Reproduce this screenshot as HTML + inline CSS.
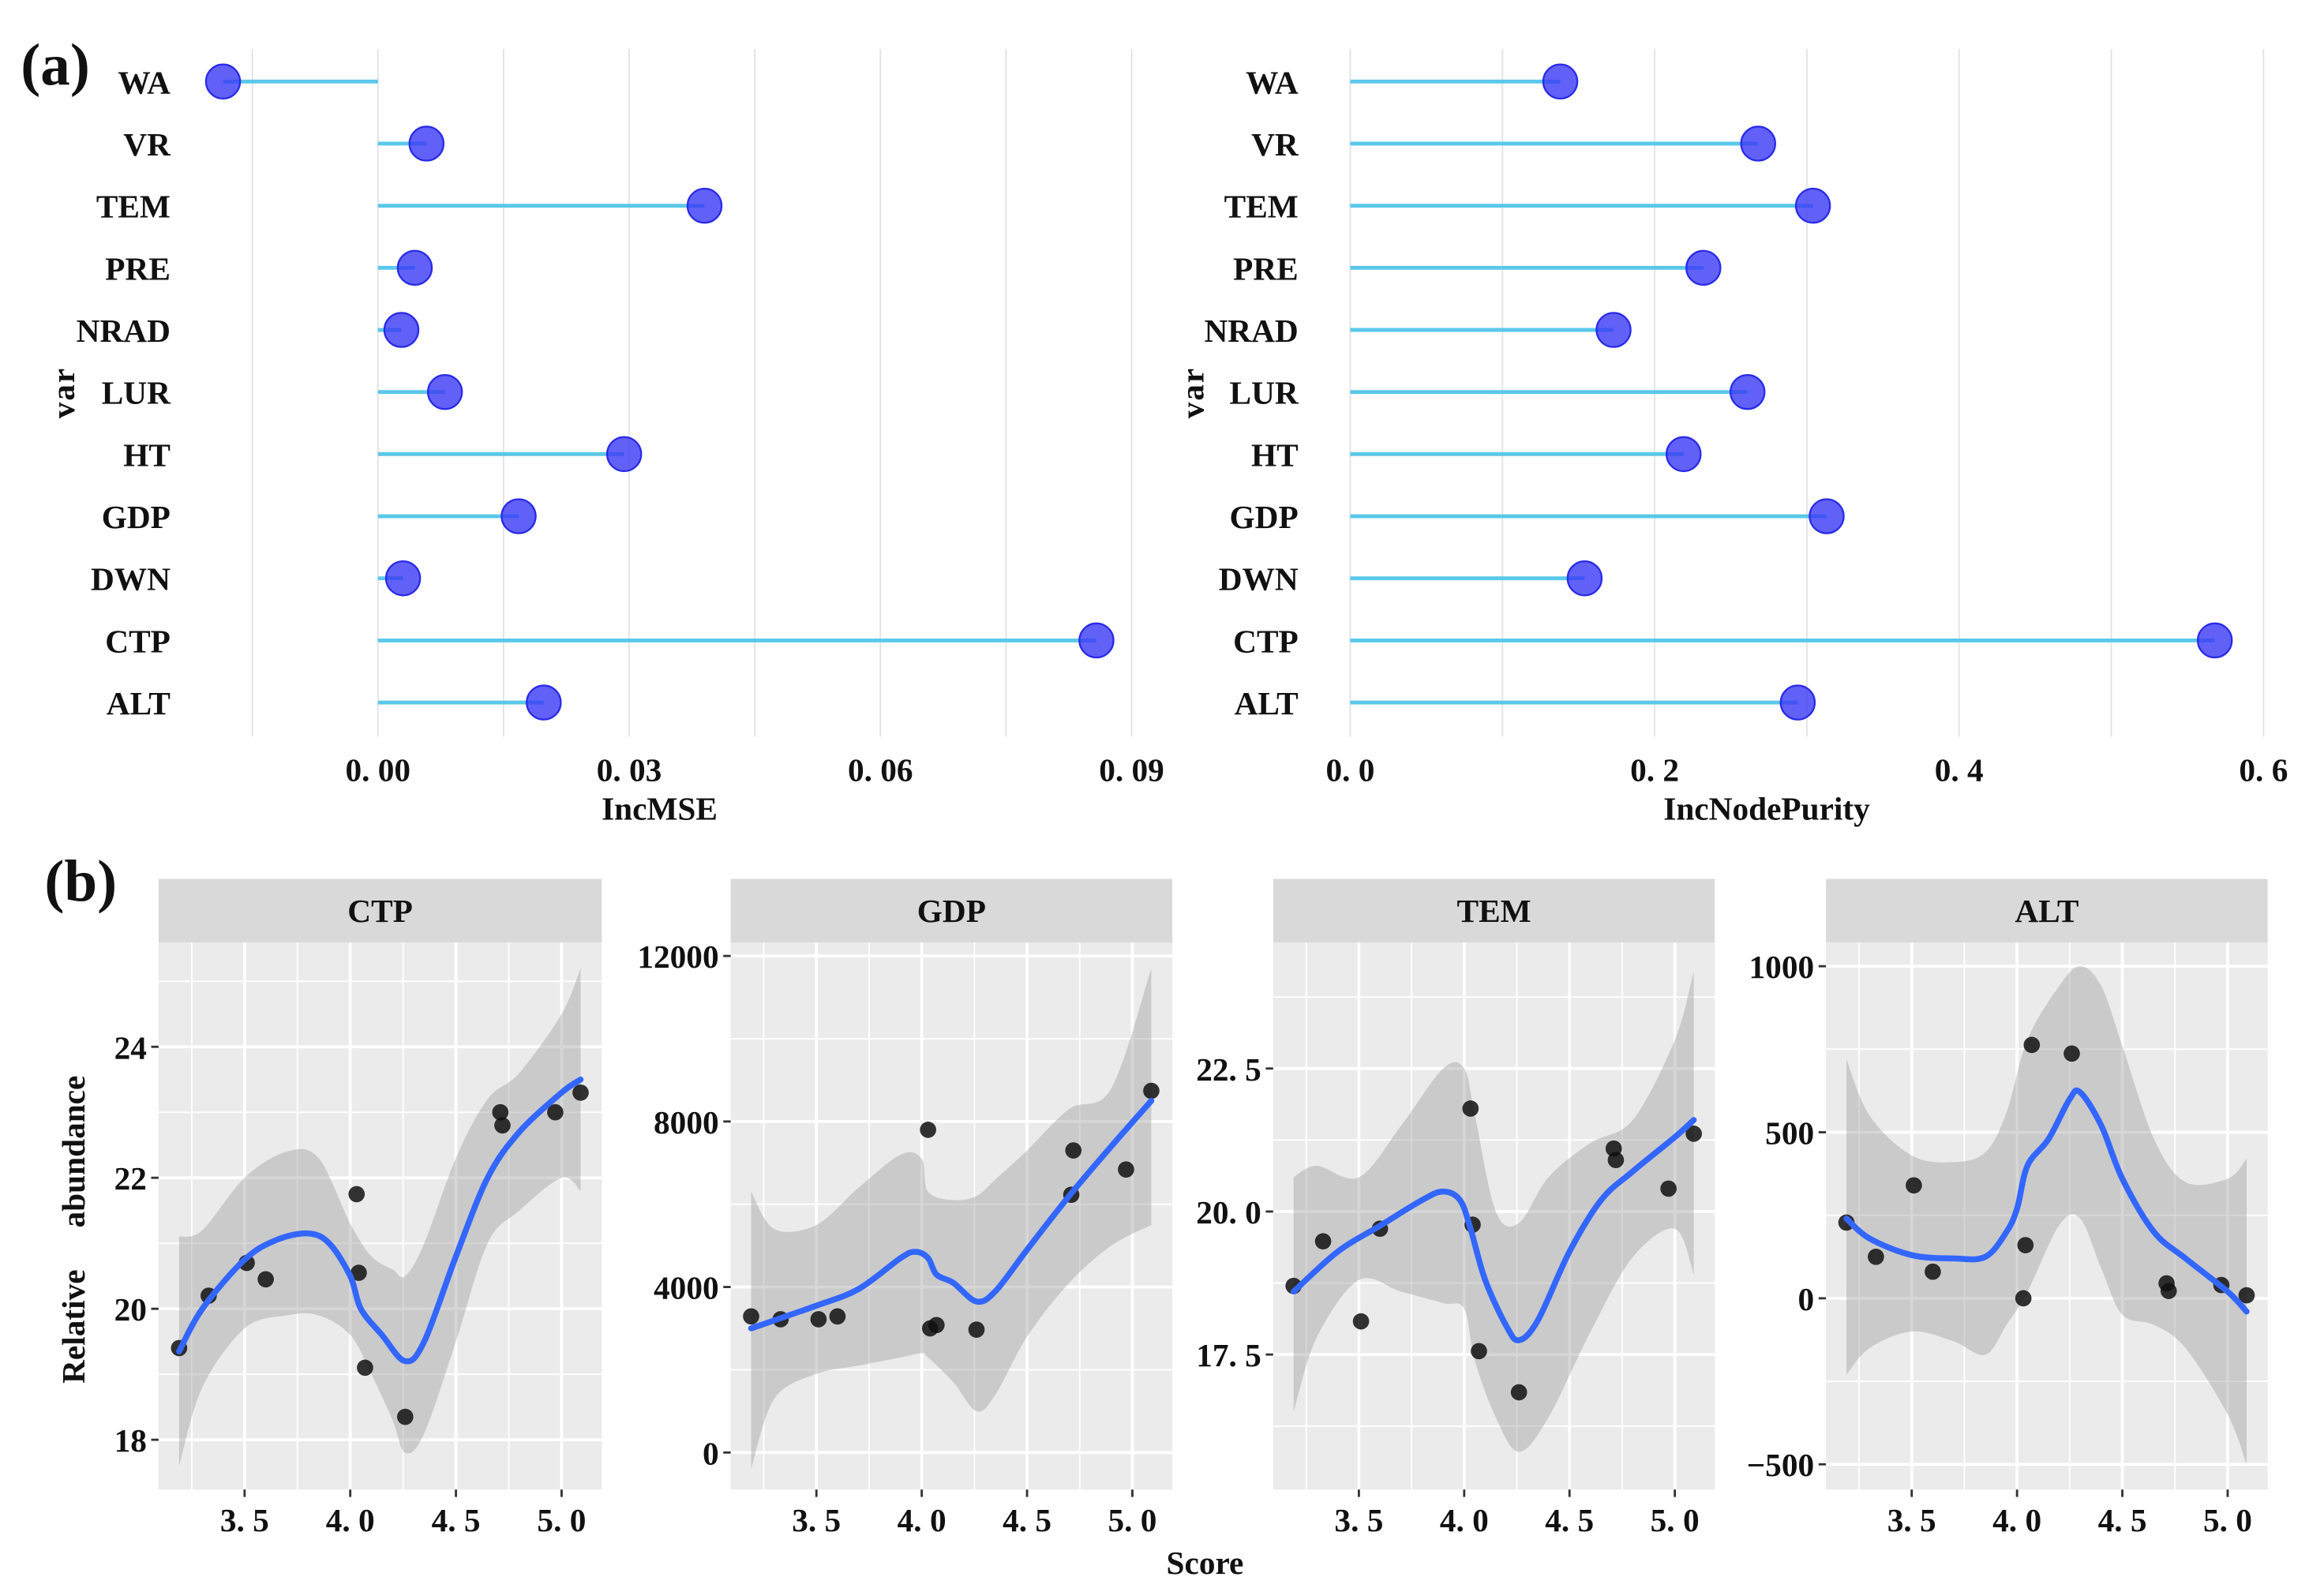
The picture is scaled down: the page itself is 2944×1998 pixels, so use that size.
<!DOCTYPE html>
<html><head><meta charset="utf-8">
<style>
html,body{margin:0;padding:0;background:#fff;}
svg{display:block;}
text{font-family:"Liberation Serif",serif;font-weight:bold;fill:#111;}
</style></head>
<body>
<svg id="chart" width="2944" height="1998" viewBox="0 0 1568 1064" preserveAspectRatio="none" xmlns="http://www.w3.org/2000/svg"></svg>
<script>
// ---------- Panel (a) data ----------
const vars = ["WA","VR","TEM","PRE","NRAD","LUR","HT","GDP","DWN","CTP","ALT"];
const incMSE = [-0.0185,0.0058,0.039,0.0044,0.0028,0.008,0.0294,0.0168,0.003,0.0858,0.0198];
const incNodePurity = [0.138,0.268,0.304,0.232,0.173,0.261,0.219,0.313,0.154,0.568,0.294];
const mseTicks = [0,0.03,0.06,0.09];
const mseTickLabels = ["0. 00","0. 03","0. 06","0. 09"];
const inpTicks = [0,0.2,0.4,0.6];
const inpTickLabels = ["0. 0","0. 2","0. 4","0. 6"];

// ---------- Panel (b) data ----------
const scores = [3.19,3.33,3.51,3.6,4.03,4.04,4.07,4.26,4.71,4.72,4.97,5.09];
const ctpValues = [19.4,20.2,20.7,20.45,21.75,20.55,19.1,18.35,23.0,22.8,23.0,23.3];
const gdpValues = [3290,3220,3220,3290,7800,3000,3080,2970,6230,7300,6840,8740];
const temValues = [18.7,19.48,18.08,19.7,21.8,19.77,17.56,16.84,21.1,20.9,20.4,21.36];
const altValues = [228,125,340,80,0,160,763,737,45,22,40,9];

const ctpFitX = [3.19,3.3,3.5,3.65,3.8,3.9,4.0,4.05,4.15,4.26,4.35,4.5,4.65,4.8,5.0,5.09];
const ctpFit  = [19.35,20.0,20.75,21.05,21.15,21.0,20.5,20.0,19.6,19.2,19.5,20.8,22.0,22.7,23.3,23.5];
const ctpBandX = [3.19,3.3,3.5,3.7,3.85,4.0,4.1,4.2,4.26,4.35,4.5,4.65,4.8,5.0,5.09];
const ctpUpper = [21.1,21.2,22.0,22.4,22.3,21.3,20.8,20.6,20.5,21.0,22.3,23.2,23.6,24.5,25.2];
const ctpLower = [17.6,18.8,19.7,19.9,19.9,19.6,19.0,18.3,17.8,18.1,19.5,21.0,21.5,22.0,21.8];

const gdpFitX = [3.19,3.5,3.7,3.9,3.97,4.03,4.07,4.15,4.26,4.35,4.5,4.7,4.9,5.09];
const gdpFit  = [3000,3550,3950,4700,4850,4700,4300,4100,3650,3900,4900,6200,7400,8500];
const gdpBandX = [3.19,3.3,3.5,3.7,3.9,4.0,4.03,4.15,4.26,4.35,4.5,4.7,4.9,5.09];
const gdpUpper = [6300,5400,5500,6400,7200,7100,6300,6100,6200,6600,7300,8300,8800,11700];
const gdpLower = [-400,1300,1900,2100,2300,2400,2300,1700,1000,1400,2800,4100,5000,5500];

const temFitX = [3.19,3.4,3.6,3.8,3.9,3.98,4.03,4.1,4.2,4.26,4.35,4.5,4.65,4.8,5.0,5.09];
const temFit  = [18.6,19.3,19.75,20.2,20.35,20.2,19.7,18.8,18.0,17.75,18.1,19.3,20.2,20.7,21.3,21.6];
const temBandX = [3.19,3.3,3.5,3.7,3.9,4.0,4.05,4.15,4.26,4.4,4.6,4.8,5.0,5.09];
const temUpper = [20.6,20.8,20.6,21.5,22.5,22.5,21.7,20.0,19.8,20.6,21.2,21.6,23.0,24.2];
const temLower = [16.5,17.8,18.8,18.6,18.4,18.3,17.4,16.4,15.8,16.4,17.9,19.2,19.7,18.9];

const altFitX = [3.19,3.3,3.5,3.7,3.85,3.95,4.0,4.05,4.15,4.25,4.3,4.4,4.5,4.65,4.8,5.0,5.09];
const altFit  = [240,180,130,120,125,200,270,400,480,600,620,520,360,200,120,20,-40];
const altBandX = [3.19,3.3,3.5,3.7,3.85,3.95,4.05,4.2,4.3,4.4,4.5,4.65,4.8,5.0,5.09];
const altUpper = [720,550,430,410,440,560,780,940,1000,940,760,480,350,360,420];
const altLower = [-230,-150,-100,-130,-170,-80,20,220,240,90,-50,-80,-150,-350,-500];

const xTicksB = [3.5,4.0,4.5,5.0];
const xTickLabelsB = ["3. 5","4. 0","4. 5","5. 0"];
const ctpYTicks = [18,20,22,24]; const ctpYLabels = ["18","20","22","24"];
const gdpYTicks = [0,4000,8000,12000]; const gdpYLabels = ["0","4000","8000","12000"];
const temYTicks = [17.5,20,22.5]; const temYLabels = ["17. 5","20. 0","22. 5"];
const altYTicks = [-500,0,500,1000]; const altYLabels = ["\u2212500","0","500","1000"];

// ---------- helpers ----------
const NS = "http://www.w3.org/2000/svg";
const svg = document.getElementById("chart");
function mk(tag, attrs, parent){
  const e = document.createElementNS(NS, tag);
  for (const k in attrs) e.setAttribute(k, attrs[k]);
  (parent||svg).appendChild(e);
  return e;
}
function txt(s, x, y, size, anchor, parent){
  const t = mk("text", {x:x, y:y, "font-size":size, "text-anchor":anchor||"middle"}, parent);
  t.textContent = s;
  return t;
}
function lin(d0,d1,r0,r1){ return v => r0 + (v-d0)/(d1-d0)*(r1-r0); }
function smoothPath(pts){
  let d = "M"+pts[0][0]+","+pts[0][1];
  for (let i=0;i<pts.length-1;i++){
    const p0=pts[Math.max(0,i-1)], p1=pts[i], p2=pts[i+1], p3=pts[Math.min(pts.length-1,i+2)];
    const c1x=p1[0]+(p2[0]-p0[0])/6, c1y=p1[1]+(p2[1]-p0[1])/6;
    const c2x=p2[0]-(p3[0]-p1[0])/6, c2y=p2[1]-(p3[1]-p1[1])/6;
    d += " C"+c1x+","+c1y+" "+c2x+","+c2y+" "+p2[0]+","+p2[1];
  }
  return d;
}

// ---------- panel labels ----------
let t = txt("(a)", 14, 57, 40, "start");


t = txt("(b)", 30, 608, 40, "start");



// ---------- lollipop panels ----------
function lollipop(name, values, x0px, pxPerUnit, gridMin, gridStep, gridMax, ticks, tickLabels, labelRight, varX, title, titleX){
  const g = mk("g", {});
  
  
  const xs = v => x0px + v*pxPerUnit;
  const ys = i => 55 + i*41.9;
  for (let v=gridMin; v<=gridMax+1e-9; v+=gridStep){
    const gl = mk("line", {x1:xs(v), x2:xs(v), y1:33, y2:497, stroke:"#e3e3e3", "stroke-width":1}, g);
    
    
  }
  ticks.forEach((v,i)=>{
    const tl = txt(tickLabels[i], xs(v), 527, 22, "middle", g);
    
    
  });
  const xt = txt(title, titleX, 553, 22, "middle", g);
  
  
  const vt = mk("text", {x:0, y:0, "font-size":22, "text-anchor":"middle", transform:"translate("+varX+",265) rotate(-90)", "letter-spacing":"1"}, g);
  vt.textContent = "var";
  
  
  vars.forEach((vn,i)=>{
    const lb = txt(vn, labelRight, ys(i)+8, 22, "end", g);
    
    
    const ln = mk("line", {x1:xs(0), x2:xs(values[i]), y1:ys(i), y2:ys(i), stroke:"#5ac8ea", "stroke-width":2.6}, g);
    
    
    const c = mk("circle", {cx:xs(values[i]), cy:ys(i), r:11.5, fill:"#3a3af5", "fill-opacity":0.8, stroke:"#2a2ae8", "stroke-width":1.2}, g);
    
    
  });
}
lollipop("incmse-panel", incMSE, 255, 5650, -0.015, 0.015, 0.09, mseTicks, mseTickLabels, 115, 50, "IncMSE", 445);
lollipop("incnodepurity-panel", incNodePurity, 911, 1027, 0, 0.1, 0.6, inpTicks, inpTickLabels, 876, 812, "IncNodePurity", 1192);

// ---------- facet panels ----------
function facet(name, label, left, right, yTop, yBot, pts, fitX, fit, bandX, upper, lower, yTicks, yLabels){
  const top = 636, bottom = 1005;
  const g = mk("g", {});
  
  
  const xs = lin(3.093, 5.19, left, right);
  const ys = lin(yBot, yTop, bottom, top);
  const strip = mk("rect", {x:left, y:593, width:right-left, height:43, fill:"#d9d9d9"}, g);
  
  
  const st = txt(label, (left+right)/2, 622, 22, "middle", g);
  
  
  const bg = mk("rect", {x:left, y:top, width:right-left, height:bottom-top, fill:"#ebebeb"}, g);
  
  
  const ystep = yTicks[1]-yTicks[0];
  for (let v=yTicks[0]-ystep/2; v<=yTop; v+=ystep){
    if (v<yBot) continue;
    const l = mk("line", {x1:left, x2:right, y1:ys(v), y2:ys(v), stroke:"#fff", "stroke-width":1}, g);
    
    
  }
  for (let v=3.25; v<5.19; v+=0.5){
    const l = mk("line", {x1:xs(v), x2:xs(v), y1:top, y2:bottom, stroke:"#fff", "stroke-width":1}, g);
    
    
  }
  yTicks.forEach((v,i)=>{
    const l = mk("line", {x1:left, x2:right, y1:ys(v), y2:ys(v), stroke:"#fff", "stroke-width":2}, g);
    
    
    const tk = mk("line", {x1:left-5, x2:left, y1:ys(v), y2:ys(v), stroke:"#333", "stroke-width":1.5}, g);
    
    
    const tl = txt(yLabels[i], left-8, ys(v)+8, 22, "end", g);
    
    
  });
  xTicksB.forEach((v,i)=>{
    const l = mk("line", {x1:xs(v), x2:xs(v), y1:top, y2:bottom, stroke:"#fff", "stroke-width":2}, g);
    
    
    const tk = mk("line", {x1:xs(v), x2:xs(v), y1:bottom, y2:bottom+5, stroke:"#333", "stroke-width":1.5}, g);
    
    
    const tl = txt(xTickLabelsB[i], xs(v), 1033, 22, "middle", g);
    
    
  });
  const up = bandX.map((x,i)=>[xs(x), ys(upper[i])]);
  const lo = bandX.map((x,i)=>[xs(x), ys(lower[i])]).reverse();
  const upD = smoothPath(up);
  const loD = smoothPath(lo).replace(/^M/, "L");
  const band = mk("path", {d:upD+" "+loD+" Z", fill:"#999", "fill-opacity":0.4}, g);
  
  
  pts.forEach((v,i)=>{
    const c = mk("circle", {cx:xs(scores[i]), cy:ys(v), r:5.5, fill:"#111", "fill-opacity":0.85}, g);
    
    
  });
  const fl = mk("path", {d:smoothPath(fitX.map((x,i)=>[xs(x), ys(fit[i])])), fill:"none", stroke:"#3366ff", "stroke-width":4, "stroke-linecap":"round"}, g);
  
  
}
facet("ctp-facet","CTP",107,406,25.59,17.24,ctpValues,ctpFitX,ctpFit,ctpBandX,ctpUpper,ctpLower,ctpYTicks,ctpYLabels);
facet("gdp-facet","GDP",493,791,12322,-895,gdpValues,gdpFitX,gdpFit,gdpBandX,gdpUpper,gdpLower,gdpYTicks,gdpYLabels);
facet("tem-facet","TEM",859,1157,24.7,15.14,temValues,temFitX,temFit,temBandX,temUpper,temLower,temYTicks,temYLabels);
facet("alt-facet","ALT",1232,1530,1071,-576,altValues,altFitX,altFit,altBandX,altUpper,altLower,altYTicks,altYLabels);

t = txt("Score", 813, 1062, 22, "middle");


t = mk("text", {x:0, y:0, "font-size":22, "text-anchor":"middle", transform:"translate(57,895) rotate(-90)"});
t.textContent = "Relative";


t = mk("text", {x:0, y:0, "font-size":22, "text-anchor":"middle", transform:"translate(57,777) rotate(-90)"});
t.textContent = "abundance";


</script>
</body></html>
